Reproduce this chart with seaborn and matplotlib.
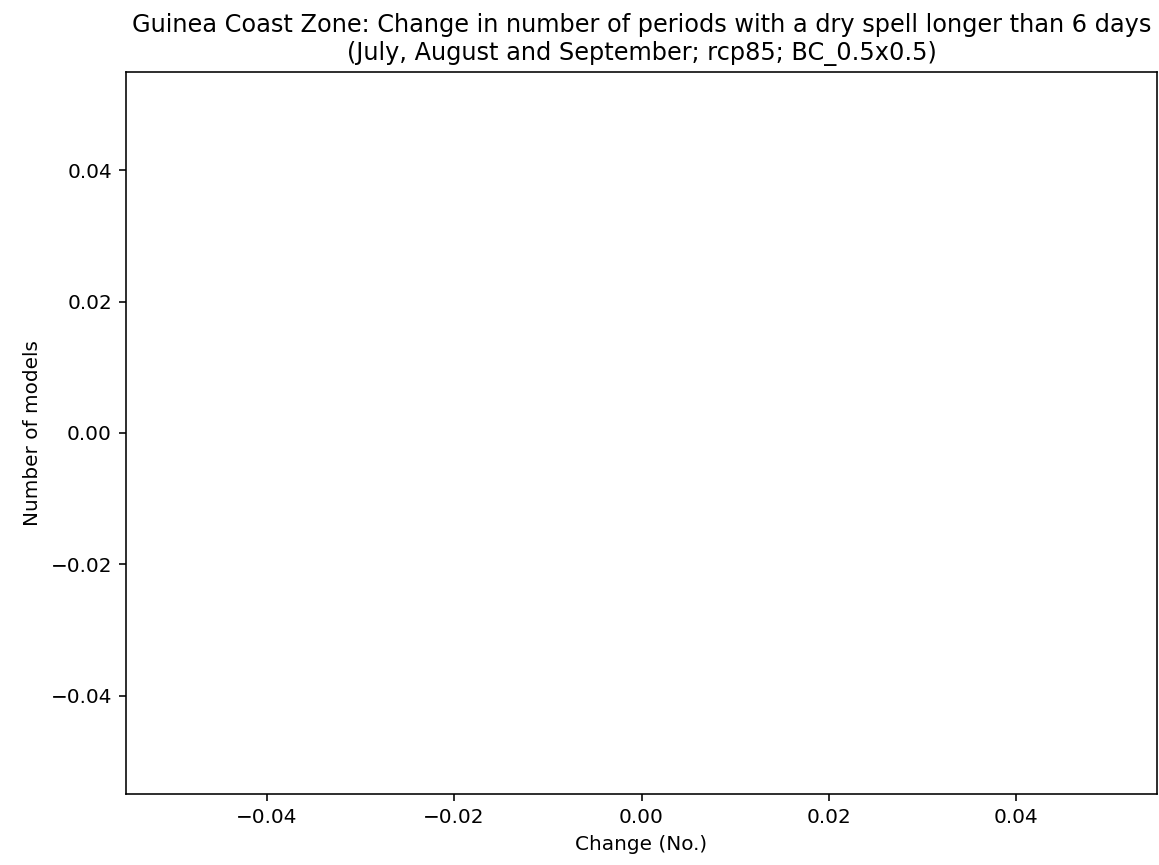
import matplotlib
matplotlib.use("Agg")
import matplotlib.pyplot as plt
import seaborn as sns
import numpy as np
import pandas as pd

# Data: the reference chart contains no data (empty histogram)
change_values = []  # Change (No.) per model — none present in the reference
tick_values = [-0.04, -0.02, 0.0, 0.02, 0.04]
tick_labels = ["\u22120.04", "\u22120.02", "0.00", "0.02", "0.04"]
title = ("Guinea Coast Zone: Change in number of periods with a dry spell longer than 6 days\n"
         "(July, August and September; rcp85; BC_0.5x0.5)")
xlabel = "Change (No.)"
ylabel = "Number of models"

sns.set_style("ticks")
plt.rcParams['font.family'] = ['DejaVu Sans']
plt.rcParams['font.size'] = 10
plt.rcParams['text.color'] = 'black'
plt.rcParams['axes.labelcolor'] = 'black'
plt.rcParams['xtick.color'] = 'black'
plt.rcParams['ytick.color'] = 'black'

DPI = 144
fig = plt.figure(figsize=(1159 / DPI, 865 / DPI), dpi=DPI)
ax = fig.add_axes([126 / 1159, 1 - 794 / 865, 1031 / 1159, 722 / 865])

df = pd.DataFrame({"change": pd.Series(change_values, dtype=float)})
if len(df) > 0:
    sns.histplot(data=df, x="change", ax=ax)
else:
    # empty data: matplotlib's singular-limit expansion around 0
    ax.plot(df["change"], df["change"])
    ax.set_xlim(-0.055, 0.055)
    ax.set_ylim(-0.055, 0.055)

ax.set_xticks(tick_values)
ax.set_yticks(tick_values)
ax.set_xticklabels(tick_labels)
ax.set_yticklabels(tick_labels)
ax.set_title(title, fontsize=12, color="black")
ax.set_xlabel(xlabel, fontsize=10)
ax.set_ylabel(ylabel, fontsize=10)
for s in ax.spines.values():
    s.set_visible(True)
    s.set_color("black")
    s.set_linewidth(0.8)
ax.tick_params(colors="black", labelsize=10, length=3.5, width=0.8)

fig.savefig("out.png", dpi=DPI)
